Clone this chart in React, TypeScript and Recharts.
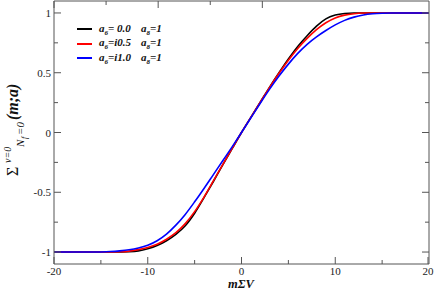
import { LineChart, Line, XAxis, YAxis, Legend } from "recharts";

// m Σ V sample points
const M_SIGMA_V = [
  -20, -18, -16, -15, -14, -13, -12, -11, -10, -9, -8, -7, -6, -5, -4, -3, -2, -1, 0,
  1, 2, 3, 4, 5, 6, 7, 8, 9, 10, 11, 12, 13, 14, 15, 16, 18, 20,
];

// a6 = 0.0, a8 = 1
const A6_00 = [
  -1, -1, -1, -1, -1, -0.999, -0.997, -0.99, -0.972, -0.945, -0.905, -0.852, -0.78, -0.675, -0.545, -0.41, -0.27, -0.135, 0,
  0.127, 0.253, 0.38, 0.5, 0.615, 0.72, 0.81, 0.89, 0.95, 0.982, 0.996, 1, 1, 1, 1, 1, 1, 1,
];

// a6 = i0.5, a8 = 1
const A6_I05 = [
  -1, -1, -1, -1, -1, -0.998, -0.992, -0.98, -0.962, -0.935, -0.893, -0.838, -0.762, -0.662, -0.54, -0.405, -0.268, -0.133, 0,
  0.127, 0.253, 0.377, 0.495, 0.605, 0.703, 0.787, 0.86, 0.918, 0.958, 0.982, 0.994, 0.999, 1, 1, 1, 1, 1,
];

// a6 = i1.0, a8 = 1
const A6_I10 = [
  -1, -1, -1, -0.999, -0.996, -0.99, -0.981, -0.966, -0.943, -0.905, -0.85, -0.775, -0.685, -0.58, -0.468, -0.352, -0.236, -0.12, 0,
  0.123, 0.245, 0.363, 0.472, 0.572, 0.662, 0.738, 0.8, 0.853, 0.9, 0.938, 0.965, 0.983, 0.993, 0.998, 1, 1, 1,
];

const X_TICKS = [-20, -15, -10, -5, 0, 5, 10, 15, 20];
const X_LABELS = [-20, -10, 0, 10, 20];
const Y_TICKS = [-1, -0.75, -0.5, -0.25, 0, 0.25, 0.5, 0.75, 1];
const Y_LABELS = [-1, -0.5, 0, 0.5, 1];

const SERIES = [
  { key: "a00", a6: "= 0.0", a8: "=1", color: "#000000", values: A6_00 },
  { key: "ai05", a6: "=i0.5", a8: "=1", color: "#ff0000", values: A6_I05 },
  { key: "ai10", a6: "=i1.0", a8: "=1", color: "#0000ff", values: A6_I10 },
];

const data = M_SIGMA_V.map((x, i) => {
  const row: Record<string, number> = { x };
  SERIES.forEach((s) => (row[s.key] = s.values[i]));
  return row;
});

const AXIS = "#555";
const SERIF = "Liberation Serif, DejaVu Serif, serif";

function BottomTick({ x, y, payload }: any) {
  const major = X_LABELS.includes(payload.value);
  return (
    <g>
      <line x1={x} y1={y} x2={x} y2={y - (major ? 7 : 4)} stroke={AXIS} />
      {major && (
        <text x={x} y={y + 10.5} textAnchor="middle" fontSize={11} fontFamily={SERIF} fill="#222">
          {payload.value}
        </text>
      )}
    </g>
  );
}

function TopTick({ x, y, payload }: any) {
  const major = X_LABELS.includes(payload.value);
  return <line x1={x} y1={y} x2={x} y2={y + (major ? 7 : 4)} stroke={AXIS} />;
}

function LeftTick({ x, y, payload }: any) {
  const major = Y_LABELS.includes(payload.value);
  return (
    <g>
      <line x1={x} y1={y} x2={x + (major ? 7 : 4)} y2={y} stroke={AXIS} />
      {major && (
        <text x={x - 3} y={y + 4} textAnchor="end" fontSize={11} fontFamily={SERIF} fill="#222">
          {payload.value}
        </text>
      )}
    </g>
  );
}

function RightTick({ x, y, payload }: any) {
  const major = Y_LABELS.includes(payload.value);
  return <line x1={x} y1={y} x2={x - (major ? 7 : 4)} y2={y} stroke={AXIS} />;
}

function YTitle() {
  return (
    <g transform="translate(18,176) rotate(-90)" fontFamily={SERIF} fill="#111">
      <text x={0} y={0} fontSize={16}>Σ</text>
      <text x={13} y={-7} fontSize={10} fontStyle="italic">ν=0</text>
      <text x={29} y={6} fontSize={11} fontStyle="italic">N</text>
      <text x={37} y={9} fontSize={8} fontStyle="italic">f</text>
      <text x={41} y={6} fontSize={11} fontStyle="italic">=0</text>
      <text x={56} y={0} fontSize={16} fontWeight="bold" fontStyle="italic">(m;a)</text>
    </g>
  );
}

function XTitle() {
  return (
    <text x={241} y={288} textAnchor="middle" fontSize={12.5} fontWeight="bold" fontStyle="italic" fontFamily={SERIF} fill="#111">
      mΣV
    </text>
  );
}

function LegendBox() {
  return (
    <div style={{ fontFamily: SERIF, fontSize: 11, fontWeight: "bold", fontStyle: "italic", color: "#111" }}>
      {SERIES.map((s) => (
        <div key={s.key} style={{ display: "flex", alignItems: "center", height: 14.5, whiteSpace: "nowrap" }}>
          <span style={{ width: 15, height: 2, background: s.color, marginRight: 7 }} />
          <span style={{ width: 42 }}>
            a<sub style={{ fontSize: 7 }}>6</sub>{s.a6}
          </span>
          <span>
            a<sub style={{ fontSize: 7 }}>8</sub>{s.a8}
          </span>
        </div>
      ))}
    </div>
  );
}

export default function App() {
  return (
    <div style={{ position: "absolute", left: 0, top: 0, width: 436, height: 291, background: "#fff" }}>
      <LineChart width={436} height={291} data={data} margin={{ top: 0, right: 0, left: 0, bottom: 0 }}>
        <XAxis
          dataKey="x"
          type="number"
          domain={[-20, 20]}
          ticks={X_TICKS}
          allowDataOverflow
          height={27}
          stroke={AXIS}
          tickSize={0}
          tickMargin={0}
          tick={<BottomTick />}
          label={<XTitle />}
        />
        <XAxis
          xAxisId="top"
          orientation="top"
          type="number"
          domain={[-20, 20]}
          ticks={X_TICKS}
          allowDataOverflow
          height={1}
          stroke={AXIS}
          tickSize={0}
          tickMargin={0}
          tick={<TopTick />}
        />
        <YAxis
          type="number"
          domain={[-1.1, 1.1]}
          ticks={Y_TICKS}
          allowDataOverflow
          width={54}
          stroke={AXIS}
          tickSize={0}
          tickMargin={0}
          tick={<LeftTick />}
          label={<YTitle />}
        />
        <YAxis
          yAxisId="right"
          orientation="right"
          type="number"
          domain={[-1.1, 1.1]}
          ticks={Y_TICKS}
          allowDataOverflow
          width={7}
          stroke={AXIS}
          tickSize={0}
          tickMargin={0}
          tick={<RightTick />}
        />
        {SERIES.map((s) => (
          <Line
            key={s.key}
            type="monotone"
            dataKey={s.key}
            stroke={s.color}
            strokeWidth={1.6}
            dot={false}
            isAnimationActive={false}
          />
        ))}
        <Legend
          layout="vertical"
          verticalAlign="middle"
          align="center"
          content={<LegendBox />}
          wrapperStyle={{ left: 77, top: 22, width: "auto" }}
        />
      </LineChart>
    </div>
  );
}
